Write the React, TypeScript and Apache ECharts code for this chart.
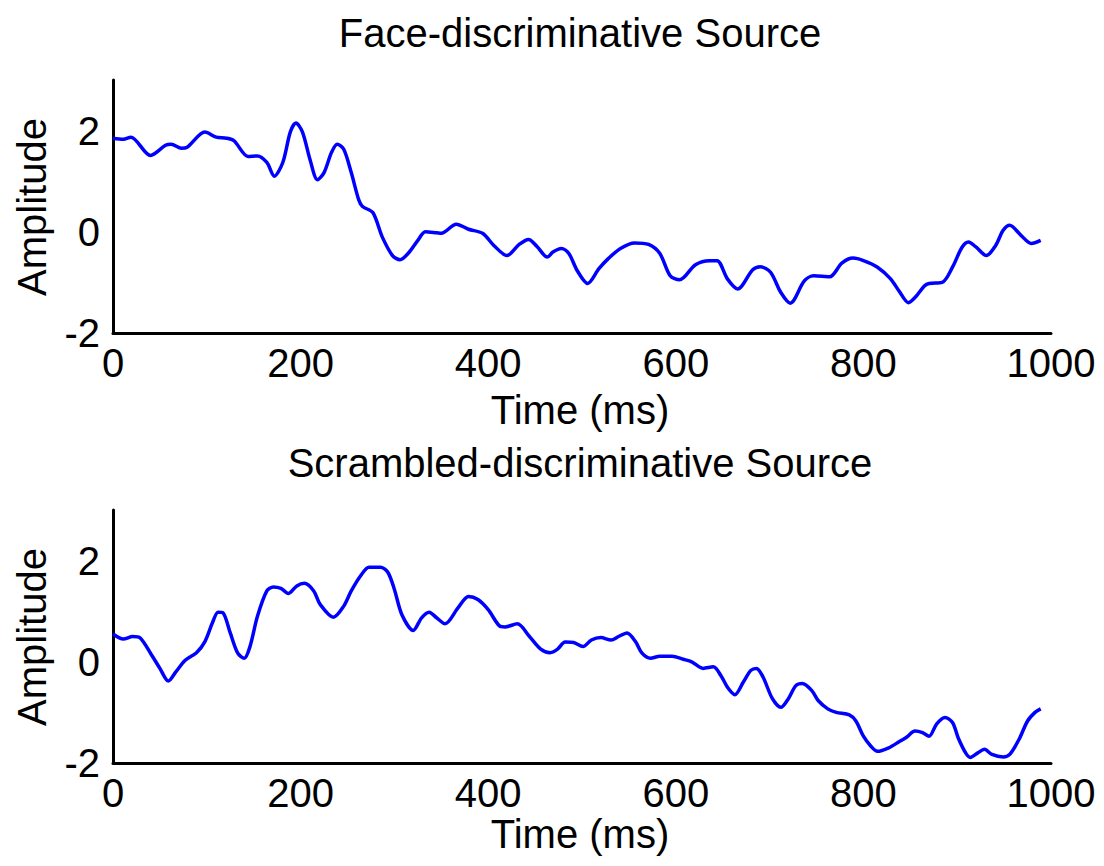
import React, { useEffect, useRef } from "react";
import * as echarts from "echarts";

const xTicks = [0, 200, 400, 600, 800, 1000];
const yTickLabels = [-2, 0, 2];

const faceTime = [0, 11, 19, 40, 56, 62, 73, 79, 98, 110, 121, 129, 144, 154, 164, 172, 181, 189, 195, 202, 210, 218, 225, 233, 239, 246, 254, 262, 266, 277, 287, 298, 306, 315, 325, 333, 345, 350, 366, 379, 394, 406, 420, 433, 443, 452, 463, 469, 478, 486, 495, 506, 518, 528, 541, 556, 571, 583, 594, 604, 621, 636, 644, 655, 666, 682, 690, 701, 712, 722, 737, 747, 764, 777, 789, 800, 815, 829, 838, 848, 855, 865, 870, 884, 895, 905, 912, 920, 931, 941, 949, 956, 968, 979, 989];
const faceAmp = [1.85, 1.83, 1.87, 1.51, 1.71, 1.73, 1.65, 1.67, 1.97, 1.87, 1.85, 1.8, 1.49, 1.5, 1.37, 1.1, 1.37, 1.97, 2.15, 1.97, 1.43, 1.03, 1.17, 1.57, 1.73, 1.63, 1.17, 0.63, 0.5, 0.38, -0.1, -0.47, -0.55, -0.42, -0.17, 0.0, -0.02, -0.03, 0.15, 0.05, -0.03, -0.27, -0.47, -0.25, -0.15, -0.29, -0.5, -0.4, -0.33, -0.43, -0.77, -1.02, -0.73, -0.53, -0.33, -0.22, -0.25, -0.43, -0.87, -0.95, -0.65, -0.57, -0.57, -0.93, -1.13, -0.75, -0.69, -0.8, -1.2, -1.41, -0.97, -0.87, -0.89, -0.62, -0.52, -0.57, -0.7, -0.93, -1.17, -1.4, -1.3, -1.07, -1.02, -1.0, -0.7, -0.31, -0.2, -0.3, -0.47, -0.27, 0.03, 0.13, -0.07, -0.23, -0.17];

const scrTime = [0, 11, 21, 29, 40, 50, 59, 67, 77, 89, 98, 106, 112, 117, 125, 133, 140, 146, 154, 164, 171, 179, 187, 196, 204, 214, 221, 235, 246, 254, 264, 273, 285, 293, 300, 308, 320, 329, 337, 345, 354, 368, 379, 389, 400, 412, 418, 431, 444, 456, 466, 474, 482, 491, 501, 510, 520, 531, 539, 548, 557, 564, 573, 583, 596, 608, 617, 629, 640, 648, 655, 663, 672, 680, 686, 693, 703, 712, 720, 728, 735, 745, 752, 762, 771, 785, 792, 800, 808, 815, 827, 838, 846, 855, 863, 870, 878, 887, 895, 901, 909, 914, 922, 929, 937, 949, 956, 966, 975, 983, 989];
const scrAmp = [0.55, 0.45, 0.5, 0.47, 0.17, -0.13, -0.38, -0.2, 0.03, 0.18, 0.4, 0.77, 0.98, 0.97, 0.57, 0.17, 0.07, 0.3, 0.9, 1.4, 1.48, 1.45, 1.35, 1.5, 1.55, 1.4, 1.13, 0.88, 1.1, 1.4, 1.7, 1.87, 1.87, 1.77, 1.43, 0.93, 0.62, 0.87, 0.98, 0.87, 0.75, 1.07, 1.29, 1.23, 1.03, 0.71, 0.69, 0.75, 0.5, 0.25, 0.18, 0.25, 0.39, 0.38, 0.3, 0.43, 0.48, 0.43, 0.5, 0.57, 0.4, 0.17, 0.07, 0.11, 0.11, 0.05, 0.0, -0.13, -0.1, -0.27, -0.5, -0.65, -0.4, -0.17, -0.13, -0.3, -0.73, -0.9, -0.73, -0.47, -0.43, -0.57, -0.77, -0.93, -1.0, -1.05, -1.17, -1.47, -1.67, -1.77, -1.7, -1.58, -1.49, -1.37, -1.4, -1.47, -1.23, -1.1, -1.2, -1.5, -1.8, -1.89, -1.8, -1.73, -1.83, -1.88, -1.83, -1.53, -1.17, -1.0, -0.93];

const titles = ["Face-discriminative Source", "Scrambled-discriminative Source"];
const xName = "Time (ms)";
const yName = "Amplitude";

const FONT = "'Liberation Sans', Arial, Helvetica, sans-serif";
const FS = 40;

export default function App() {
  const ref = useRef<HTMLDivElement>(null);
  useEffect(() => {
    document.body.style.margin = "0";
    const chart = echarts.init(ref.current!, null, { renderer: "svg" });
    const grids = [
      { left: 113, top: 80, width: 938, height: 253 },
      { left: 113, top: 510, width: 938, height: 253 },
    ];
    const mkX = (i: number) => ({
      type: "value",
      gridIndex: i,
      min: 0,
      max: 1000,
      interval: 200,
      axisLine: { show: true, onZero: false, lineStyle: { color: "#000", width: 3 } },
      axisTick: { show: false },
      splitLine: { show: false },
      axisLabel: {
        show: true,
        color: "#000",
        fontFamily: FONT,
        fontSize: FS,
        margin: 30,
        verticalAlign: "middle",
        customValues: xTicks,
        showMinLabel: true,
        showMaxLabel: true,
        formatter: (v: number) => String(v),
      },
    });
    const mkY = (i: number) => ({
      type: "value",
      gridIndex: i,
      min: -2,
      max: 3,
      interval: 2,
      axisLine: { show: true, onZero: false, lineStyle: { color: "#000", width: 3 } },
      axisTick: { show: false },
      splitLine: { show: false },
      axisLabel: {
        show: true,
        color: "#000",
        fontFamily: FONT,
        fontSize: FS,
        margin: 13,
        customValues: yTickLabels,
        formatter: (v: number) => (yTickLabels.includes(v) ? String(v) : ""),
      },
    });
    const text = (t: string, x: number, y: number, rot = 0) => ({
      type: "text",
      x,
      y,
      rotation: rot,
      style: {
        text: t,
        fill: "#000",
        font: `${FS}px ${FONT}`,
        align: "center",
        verticalAlign: "middle",
      },
    });
    chart.setOption({
      animation: false,
      backgroundColor: "#fff",
      grid: grids,
      xAxis: [mkX(0), mkX(1)],
      yAxis: [mkY(0), mkY(1)],
      series: [
        {
          type: "line",
          xAxisIndex: 0,
          yAxisIndex: 0,
          data: faceTime.map((t, i) => [t, faceAmp[i]]),
          showSymbol: false,
          smooth: 0.3,
          lineStyle: { color: "#0000ff", width: 3.5 },
        },
        {
          type: "line",
          xAxisIndex: 1,
          yAxisIndex: 1,
          data: scrTime.map((t, i) => [t, scrAmp[i]]),
          showSymbol: false,
          smooth: 0.3,
          lineStyle: { color: "#0000ff", width: 3.5 },
        },
      ],
      graphic: [
        text(titles[0], 580, 33),
        text(titles[1], 580, 463),
        text(xName, 580, 410),
        text(xName, 580, 834),
        text(yName, 32, 207, Math.PI / 2),
        text(yName, 32, 637, Math.PI / 2),
      ],
    });
    return () => chart.dispose();
  }, []);
  return <div ref={ref} style={{ width: 1104, height: 866 }} />;
}
